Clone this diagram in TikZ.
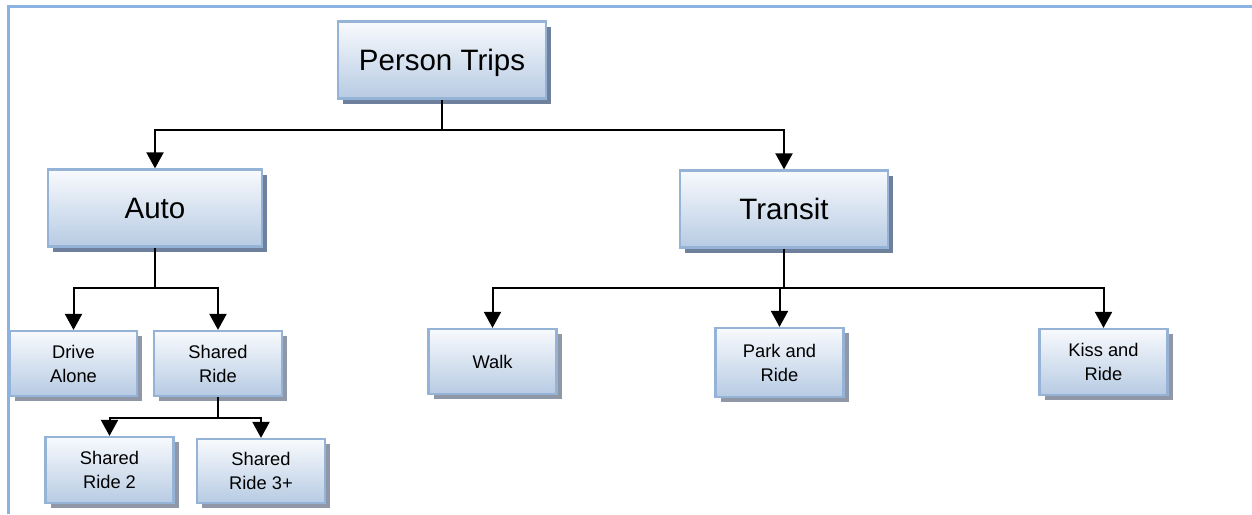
\documentclass[tikz,border=0pt]{standalone}
\usepackage{fontspec}
\setmainfont{Liberation Sans}
\usetikzlibrary{shadows,arrows.meta}
\definecolor{boxline}{HTML}{95B3D7}
\definecolor{boxtop}{HTML}{F8FAFD}
\definecolor{boxbot}{HTML}{B7CBE3}
\definecolor{shadowbig}{HTML}{6F809C}
\definecolor{shadowsmall}{HTML}{9098A8}
\definecolor{framec}{HTML}{8AB2E2}
\begin{document}
\begin{tikzpicture}[x=1pt,y=-1pt,
  box/.style={draw=boxline, line width=2.2pt, top color=boxtop, bottom color=boxbot,
    inner sep=0pt, align=center, text=black},
  bigbox/.style={box, minimum width=208pt, minimum height=77pt,
    font=\fontsize{29.5}{34}\selectfont, text depth=0pt,
    drop shadow={shadow xshift=5pt, shadow yshift=-5pt, fill=shadowbig, opacity=1}},
  smallbox/.style={box, minimum width=128pt, minimum height=65pt,
    font=\fontsize{18.3}{24}\selectfont,
    drop shadow={shadow xshift=5pt, shadow yshift=-5pt, fill=shadowsmall, opacity=1}},
  wire/.style={draw=black, line width=2pt},
  conn/.style={wire, -{Triangle[width=17pt,length=16pt]}}]
\useasboundingbox (0,0) rectangle (1252,514);
\draw[framec, line width=3pt] (8,514) -- (8,6) -- (1252,6);

\node[bigbox] (pt) at (442,60) {Person Trips};
\node[bigbox, minimum width=214pt] (auto) at (155,208) {Auto};
\node[bigbox] (transit) at (784,209) {Transit};

\node[smallbox, minimum width=127pt] (da) at (73.5,363.5) {Drive\\Alone};
\node[smallbox] (sr) at (218,363.5) {Shared\\Ride};
\node[smallbox, minimum height=66pt] (sr2) at (109.5,470) {Shared\\Ride 2};
\node[smallbox, minimum height=64pt] (sr3) at (261,471) {Shared\\Ride 3+};
\node[smallbox] (walk) at (492.5,361.5) {Walk};
\node[smallbox, minimum height=69pt] (par) at (779.5,362.5) {Park and\\Ride};
\node[smallbox, minimum height=66pt] (kar) at (1103.5,362) {Kiss and\\Ride};

\coordinate (j1) at (pt.south |- 0,130);
\draw[wire] (pt.south) -- (j1);
\draw[conn] (j1) -| (auto.north);
\draw[conn] (j1) -| (transit.north);

\coordinate (j2) at (auto.south |- 0,288);
\draw[wire] (auto.south) -- (j2);
\draw[conn] (j2) -| (da.north);
\draw[conn] (j2) -| (sr.north);

\coordinate (j3) at (sr.south |- 0,418);
\draw[wire] (sr.south) -- (j3);
\draw[conn] (j3) -| (sr2.north);
\draw[conn] (j3) -| (sr3.north);

\coordinate (j4) at (transit.south |- 0,288);
\draw[wire] (transit.south) -- (j4);
\draw[conn] (j4) -| (walk.north);
\draw[conn] (j4) -| (par.north);
\draw[conn] (j4) -| (kar.north);
\end{tikzpicture}
\end{document}
